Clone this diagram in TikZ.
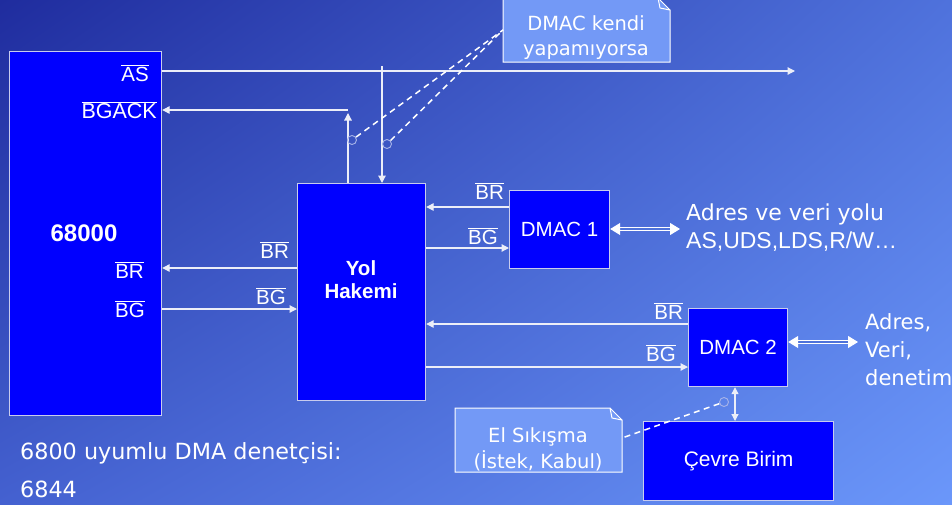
\documentclass[tikz,border=0pt]{standalone}
\usepackage{fontspec}
\setmainfont{Liberation Sans}
\newfontfamily\comic{DejaVu Sans}
\usetikzlibrary{arrows.meta,shadings}
\definecolor{bgUL}{HTML}{1F2C9E}
\definecolor{bgUR}{HTML}{4F72DC}
\definecolor{bgLL}{HTML}{4461D0}
\definecolor{bgLR}{HTML}{6B97FA}
\definecolor{boxblue}{HTML}{0000FF}
\definecolor{boxedge}{HTML}{C8CCEE}
\definecolor{notefill}{HTML}{7399F6}
\definecolor{wire}{HTML}{ECEEF8}
\definecolor{pin}{HTML}{A8B4E8}
\definecolor{dbl}{HTML}{4E72DA}
\newcommand{\ol}[1]{$\overline{\mbox{#1}}$}
\tikzset{
  x=1pt,y=-1pt,
  blk/.style={draw=boxedge, line width=1.2pt, fill=boxblue, text=white, inner sep=0pt},
  wr/.style={draw=wire, line width=1.2pt},
  tip/.style={-{Triangle[length=7.5pt,width=7.5pt]}},
  dbarrow/.style={draw=white, line width=1.1pt, double=dbl, double distance=1.6pt,
     {Triangle[length=10pt,width=12pt]}-{Triangle[length=10pt,width=12pt]}},
  lbl/.style={text=white, font=\fontsize{20.5}{22}\selectfont, inner sep=0pt},
  cmc/.style={text=white, font=\comic\fontsize{20}{25}\selectfont, inner sep=0pt},
  dsh/.style={draw=white, line width=1.5pt, dash pattern=on 6pt off 4.5pt},
  pinc/.style={draw=pin, line width=0.9pt, circle, minimum size=9pt, inner sep=0pt},
}
\begin{document}
\begin{tikzpicture}
\shade[upper left=bgUL, upper right=bgUR, lower left=bgLL, lower right=bgLR] (0,0) rectangle (952,504);
\useasboundingbox (0,0) rectangle (952,504);

% boxes
\node[blk, minimum width=152pt, minimum height=364pt, anchor=north west] (cpu) at (9,51) {};
\node[blk, minimum width=128pt, minimum height=217pt, anchor=north west] (hk) at (297,183) {};
\node[blk, minimum width=100pt, minimum height=78pt, anchor=north west, font=\fontsize{20.5}{22}\selectfont] (d1) at (509,190) {DMAC 1};
\node[blk, minimum width=99pt, minimum height=78pt, anchor=north west, font=\fontsize{20.5}{22}\selectfont] (d2) at (688,308) {DMAC 2};
\node[blk, minimum width=190pt, minimum height=79pt, anchor=north west, font=\fontsize{21}{22}\selectfont] (cb) at (643,421) {Çevre Birim};

% box texts
\node[lbl, font=\bfseries\fontsize{24}{26}\selectfont] (t68) at (84,233) {68000};
\node[lbl, font=\bfseries\fontsize{20.5}{23}\selectfont, align=center] (thk) at (361,280) {Yol\\Hakemi};
\node[lbl, anchor=east] (las) at (149,73) {\ol{AS}};
\node[lbl, anchor=east, font=\fontsize{21.5}{22}\selectfont] (lbgack) at (157,110) {\ol{BGACK}};
\node[lbl, anchor=east] (lbr) at (144,270) {\ol{BR}};
\node[lbl, anchor=east] (lbg) at (145,309) {\ol{BG}};

% coordinates
\coordinate (asend) at (795,71);
\coordinate (bgk) at (348,110);
\coordinate (bgkup) at (348,113);
\coordinate (asdrop) at (382,66);

% AS line
\draw[wr, tip] (cpu.east |- asend) -- (asend);
\draw[wr, tip] (asdrop) -- (asdrop |- hk.north);
% BGACK
\draw[wr, tip] (bgk |- hk.north) -- (bgkup);
\draw[wr, tip] (bgk) -- (bgk -| cpu.east);

% BR/BG between cpu and arbiter
\coordinate (ybr) at (0,268);
\coordinate (ybg) at (0,309);
\draw[wr, tip] (hk.west |- ybr) -- (cpu.east |- ybr);
\draw[wr, tip] (cpu.east |- ybg) -- (hk.west |- ybg);
\node[lbl, anchor=east] (hbr) at (289,250) {\ol{BR}};
\node[lbl, anchor=east] (hbg) at (286,296) {\ol{BG}};

% DMAC 1
\coordinate (y1r) at (0,207);
\coordinate (y1g) at (0,248);
\draw[wr, tip] (d1.west |- y1r) -- (hk.east |- y1r);
\draw[wr, tip] (hk.east |- y1g) -- (d1.west |- y1g);
\node[lbl, anchor=east] (d1br) at (504,191) {\ol{BR}};
\node[lbl, anchor=east] (d1bg) at (498,236) {\ol{BG}};

% DMAC 2
\coordinate (y2r) at (0,324);
\coordinate (y2g) at (0,367);
\draw[wr, tip] (d2.west |- y2r) -- (hk.east |- y2r);
\draw[wr, tip] (hk.east |- y2g) -- (d2.west |- y2g);
\node[lbl, anchor=east] (d2br) at (683,311) {\ol{BR}};
\node[lbl, anchor=east] (d2bg) at (676,353) {\ol{BG}};

% double arrows
\coordinate (e1) at (680,229);
\coordinate (e2) at (858,342);
\draw[dbarrow] (d1.east |- e1) -- (e1);
\draw[dbarrow] (d2.east |- e2) -- (e2);
\coordinate (vx) at (735,0);
\draw[wr, {Triangle[length=7pt,width=7pt]}-{Triangle[length=7pt,width=7pt]}] (vx |- d2.south) -- (vx |- cb.north);

% right texts
\node[cmc, anchor=west, font=\comic\fontsize{22}{25}\selectfont] (adr1) at (686,214) {Adres ve veri yolu};
\node[lbl, anchor=west, font=\fontsize{23}{25}\selectfont] (adr2) at (686,242) {AS,UDS,LDS,R/W…};
\node[cmc, anchor=north west, align=left, font=\comic\fontsize{21}{28}\selectfont] (adr3) at (865,313) {Adres,\\Veri,\\denetim};

% bottom-left text
\node[cmc, anchor=west, font=\comic\fontsize{22.3}{26}\selectfont] (b1) at (20,453) {6800 uyumlu DMA denetçisi:};
\node[cmc, anchor=west, font=\comic\fontsize{22.3}{26}\selectfont] (b2) at (20,489) {6844};

% notes
\fill[notefill, draw=white, line width=1pt] (503,-2) -- (658,-2) -- (670,10) -- (670,62) -- (503,62) -- cycle;
\draw[white, line width=1pt] (658,-2) -- (660,8) -- (670,10);
\node[cmc, align=center, font=\comic\fontsize{19.5}{25}\selectfont] (n1) at (586,38) {DMAC kendi\\yapamıyorsa};
\coordinate (n1p) at (503,30);

\fill[notefill, draw=white, line width=1pt] (455,408) -- (610,408) -- (622,420) -- (622,472) -- (455,472) -- cycle;
\draw[white, line width=1pt] (610,408) -- (612,418) -- (622,420);
\node[cmc, align=center, font=\comic\fontsize{19.5}{26}\selectfont] (n2) at (538,449) {El Sıkışma\\(İstek, Kabul)};
\coordinate (n2p) at (622,438);

% pins and dashed pointers
\node[pinc] (p1) at (352,140) {};
\node[pinc] (p2) at (387,144) {};
\node[pinc] (p3) at (724,402) {};
\draw[dsh] (p1) -- (n1p);
\draw[dsh] (p2) -- (n1p);
\draw[dsh] (p3) -- (n2p);
\end{tikzpicture}
\end{document}
